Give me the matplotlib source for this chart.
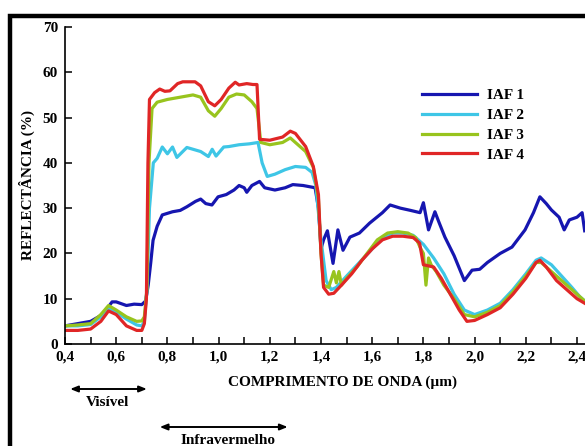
import matplotlib.pyplot as plt
from matplotlib.patches import Rectangle
from matplotlib.ticker import MultipleLocator, FuncFormatter

# Curvas de reflectância (comprimento de onda em µm, reflectância em %)
x_iaf1 = [0.40, 0.45, 0.50, 0.537, 0.56, 0.584, 0.60, 0.64, 0.67, 0.70, 0.715, 0.725,
          0.735, 0.744, 0.76, 0.78, 0.82, 0.85, 0.876, 0.91, 0.93, 0.95, 0.974, 0.998,
          1.03, 1.06, 1.08, 1.10, 1.11, 1.13, 1.16, 1.18, 1.22, 1.26, 1.29, 1.33, 1.377,
          1.39, 1.40, 1.41, 1.425, 1.447, 1.466, 1.486, 1.513, 1.55, 1.59, 1.64, 1.67,
          1.71, 1.75, 1.787, 1.80, 1.82, 1.845, 1.86, 1.884, 1.92, 1.96, 1.99, 2.02, 2.05,
          2.10, 2.146, 2.197, 2.23, 2.255, 2.28, 2.30, 2.33, 2.35, 2.37, 2.40, 2.42, 2.43]
y_iaf1 = [4.0, 4.5, 5.0, 6.2, 7.5, 9.3, 9.3, 8.5, 8.8, 8.7, 9.5, 13,
          18, 22.9, 26, 28.5, 29.2, 29.5, 30.3, 31.5, 32, 31, 30.7, 32.5,
          33, 34, 35, 34.5, 33.5, 35, 35.9, 34.5, 34, 34.5, 35.2, 35, 34.5,
          30, 21, 23, 25, 17.8, 25.2, 20.7, 23.6, 24.5, 26.7, 29, 30.7,
          30, 29.5, 29, 31.2, 25.2, 29.2, 27, 23.6, 19.5, 14, 16.3, 16.5, 18,
          20, 21.4, 25.2, 29, 32.5, 31, 29.6, 28, 25.2, 27.4, 28, 29, 25]

x_iaf2 = [0.40, 0.45, 0.50, 0.54, 0.57, 0.60, 0.64, 0.68, 0.70, 0.71, 0.72, 0.73, 0.745,
          0.76, 0.78, 0.80, 0.82, 0.837, 0.86, 0.876, 0.90, 0.93, 0.96, 0.975, 0.99, 1.02,
          1.04, 1.08, 1.12, 1.154, 1.17, 1.19, 1.22, 1.26, 1.30, 1.34, 1.365, 1.38, 1.40,
          1.42, 1.44, 1.46, 1.50, 1.55, 1.60, 1.64, 1.68, 1.72, 1.76, 1.80, 1.84, 1.88,
          1.92, 1.96, 2.00, 2.05, 2.10, 2.15, 2.20, 2.24, 2.26, 2.30, 2.34, 2.38, 2.41, 2.43]
y_iaf2 = [4.0, 4.0, 4.3, 6.0, 8.0, 7.0, 5.5, 4.2, 4.0, 5, 12, 30, 40,
          41, 43.5, 42, 43.5, 41.2, 42.5, 43.4, 43, 42.5, 41.4, 43, 41.5, 43.5,
          43.6, 44, 44.2, 44.5, 40, 37, 37.5, 38.5, 39.2, 39, 37.9, 35, 23,
          14, 12, 12.5, 15, 18, 21, 23.5, 24.5, 24.5, 24, 22, 19, 15.5,
          11, 7.5, 6.5, 7.5, 9, 12, 15.5, 18.5, 19, 17.5, 15, 12.5, 10.5, 9.5]

x_iaf3 = [0.40, 0.45, 0.50, 0.54, 0.57, 0.60, 0.64, 0.68, 0.70, 0.71, 0.72, 0.728, 0.74,
          0.76, 0.80, 0.85, 0.90, 0.93, 0.96, 0.985, 1.01, 1.04, 1.07, 1.10, 1.13, 1.15,
          1.165, 1.20, 1.25, 1.28, 1.30, 1.34, 1.37, 1.39, 1.40, 1.41, 1.43, 1.45, 1.46,
          1.47, 1.48, 1.50, 1.54, 1.58, 1.62, 1.66, 1.70, 1.74, 1.77, 1.79, 1.80, 1.81,
          1.82, 1.83, 1.85, 1.88, 1.92, 1.96, 2.00, 2.05, 2.10, 2.15, 2.20, 2.24, 2.26,
          2.29, 2.33, 2.37, 2.41, 2.43]
y_iaf3 = [4.0, 4.2, 4.5, 6.5, 8.5, 7.5, 6.0, 5.0, 5.1, 6, 12, 40, 52,
          53.4, 54, 54.5, 55, 54.5, 51.5, 50.3, 52, 54.5, 55.2, 55, 53.5, 52,
          44.5, 44, 44.5, 45.5, 44.5, 42.5, 39, 32, 20, 13, 12.5, 16, 13.5,
          16, 13, 14.5, 17, 20, 23, 24.5, 24.8, 24.5, 23.5, 21, 20, 13,
          19, 17.5, 16, 13, 10, 6.5, 6, 7, 8.5, 11.5, 15, 18, 18,
          16.5, 14.5, 12.5, 10.5, 9.5]

x_iaf4 = [0.40, 0.45, 0.50, 0.54, 0.57, 0.60, 0.64, 0.68, 0.70, 0.71, 0.718, 0.724, 0.73,
          0.75, 0.77, 0.79, 0.81, 0.84, 0.86, 0.908, 0.93, 0.96, 0.985, 1.01, 1.04, 1.065,
          1.08, 1.11, 1.134, 1.15, 1.16, 1.20, 1.25, 1.28, 1.30, 1.34, 1.37, 1.39, 1.40,
          1.41, 1.43, 1.45, 1.48, 1.52, 1.56, 1.60, 1.64, 1.68, 1.72, 1.76, 1.785, 1.80,
          1.84, 1.87, 1.90, 1.94, 1.97, 2.00, 2.05, 2.10, 2.15, 2.20, 2.24, 2.255, 2.28,
          2.32, 2.36, 2.40, 2.43]
y_iaf4 = [3.0, 3.0, 3.3, 5.0, 7.3, 6.5, 4.0, 3.0, 3.0, 4.5, 10, 40, 54,
          55.5, 56.3, 55.8, 55.9, 57.5, 57.9, 57.9, 57, 53.5, 52.6, 54, 56.5, 57.8,
          57.2, 57.5, 57.3, 57.3, 45.2, 45, 45.7, 47, 46.5, 43.6, 39.2, 33, 20,
          12.5, 11, 11.2, 13, 15.5, 18.5, 21, 23, 23.8, 23.8, 23.5, 22.3, 17.5,
          17, 14.5, 11.5, 7.5, 5, 5.2, 6.5, 8, 11, 14.5, 18, 18.5, 17,
          14, 12, 10, 9]

series = [
    ("IAF 1", x_iaf1, y_iaf1, "#1616b0"),
    ("IAF 2", x_iaf2, y_iaf2, "#3ec6e6"),
    ("IAF 3", x_iaf3, y_iaf3, "#98c41e"),
    ("IAF 4", x_iaf4, y_iaf4, "#e02626"),
]

plt.rcParams['font.family'] = ['Liberation Serif', 'DejaVu Serif']

fig = plt.figure(figsize=(5.85, 4.46), dpi=100)
ax = fig.add_axes([65 / 585, 102 / 446, 1 - 65 / 585, 317 / 446])

for name, xs, ys, c in series:
    ax.plot(xs, ys, color=c, lw=2.3, label=name, solid_joinstyle='round')

ax.set_xlim(0.4, 0.4 + 520 / 256)
ax.set_ylim(0, 70)
ax.spines['top'].set_visible(False)
ax.spines['right'].set_visible(False)
ax.spines['left'].set_linewidth(1.2)
ax.spines['bottom'].set_linewidth(1.2)

ax.xaxis.set_major_locator(MultipleLocator(0.2))
ax.xaxis.set_minor_locator(MultipleLocator(0.1))
ax.xaxis.set_major_formatter(FuncFormatter(lambda v, p: f"{v:.1f}".replace('.', ',')))
ax.yaxis.set_major_locator(MultipleLocator(10))
ax.tick_params(which='both', direction='in', length=5, width=1.1)
ax.tick_params(axis='both', labelsize=11, pad=5)
for lab in ax.get_xticklabels() + ax.get_yticklabels():
    lab.set_fontweight('bold')

ax.set_ylabel("REFLECTÂNCIA (%)", fontsize=11, fontweight='bold')
ax.yaxis.set_label_coords(-0.058, 0.5)
ax.set_xlabel("COMPRIMENTO DE ONDA (µm)", fontsize=11, fontweight='bold')
ax.xaxis.set_label_coords((342 - 65) / 520, -0.1)

leg = ax.legend(loc='upper left', bbox_to_anchor=((414 - 65) / 520, (446 - 81 - 102) / 317),
                frameon=False, fontsize=11, handlelength=3.6, handletextpad=0.7,
                labelspacing=0.4, borderpad=0)
for t in leg.get_texts():
    t.set_fontweight('bold')

# faixas do espectro abaixo do eixo
arrow = dict(arrowstyle='<|-|>,head_length=0.45,head_width=0.18', color='black', lw=1.4,
             shrinkA=0, shrinkB=0)
ax.annotate('', xy=(0.42, 57 / 446), xytext=(0.72, 57 / 446),
            xycoords=('data', 'figure fraction'), arrowprops=arrow, annotation_clip=False)
fig.text(108 / 585, 44 / 446, "Visível", ha='center', va='center', fontsize=11,
         fontweight='bold')
ax.annotate('', xy=(0.77, 19 / 446), xytext=(1.27, 19 / 446),
            xycoords=('data', 'figure fraction'), arrowprops=arrow, annotation_clip=False)
fig.text(228 / 585, 5 / 446, "Infravermelho", ha='center', va='center', fontsize=11,
         fontweight='bold')

# moldura preta (cortada à direita e em baixo)
fig.add_artist(Rectangle((10 / 585, -0.2), 1.5, 0.2 + (446 - 16) / 446,
                         transform=fig.transFigure, fill=False, ec='black', lw=3.2))

fig.savefig("out.png", dpi=100)
